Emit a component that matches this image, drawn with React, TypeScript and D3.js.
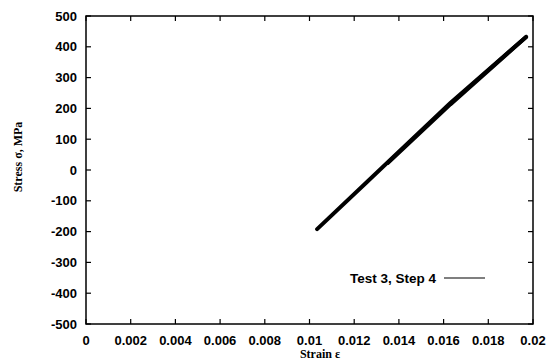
import React from "react";
import * as d3 from "d3";

const xTicks = [0, 0.002, 0.004, 0.006, 0.008, 0.01, 0.012, 0.014, 0.016, 0.018, 0.02];
const xTickLabels = ["0", "0.002", "0.004", "0.006", "0.008", "0.01", "0.012", "0.014", "0.016", "0.018", "0.02"];
const yTicks = [-500, -400, -300, -200, -100, 0, 100, 200, 300, 400, 500];
const loadingStrain = [0.01034, 0.01257, 0.01629, 0.01969];
const loadingStress = [-192, -39, 217, 432];
const unloadingStrain = [0.01969, 0.0163, 0.0135];
const unloadingStress = [432, 213, 23];
const seriesName = "Test 3, Step 4";

const W = 549, H = 364;
const L = 86, R = 533, T = 16, B = 324;

export default function App() {
  const x = d3.scaleLinear().domain([0, 0.02]).range([L, R]);
  const y = d3.scaleLinear().domain([-500, 500]).range([B, T]);
  const line = d3.line<[number, number]>().x(d => x(d[0])).y(d => y(d[1]));
  const load: [number, number][] = loadingStrain.map((s, i) => [s, loadingStress[i]]);
  const unload: [number, number][] = unloadingStrain.map((s, i) => [s, unloadingStress[i]]);
  const tickFont = "'Liberation Sans', Arial, sans-serif";
  const serif = "'Liberation Serif', 'Times New Roman', serif";
  const tl = 5;
  return (
    <svg width={W} height={H} style={{ position: "absolute", left: 0, top: 0, background: "#fff" }}>
      <rect x={0} y={0} width={W} height={H} fill="#fff" />
      {xTicks.map((t, i) => (
        <g key={"x" + i}>
          <line x1={x(t)} x2={x(t)} y1={B} y2={B - tl} stroke="#000" strokeWidth={1.2} />
          <line x1={x(t)} x2={x(t)} y1={T} y2={T + tl} stroke="#000" strokeWidth={1.2} />
          <text x={x(t)} y={345} textAnchor="middle" fontFamily={tickFont} fontWeight="bold" fontSize={13} fill="#000">
            {xTickLabels[i]}
          </text>
        </g>
      ))}
      {yTicks.map((t, i) => (
        <g key={"y" + i}>
          <line x1={L} x2={L + tl} y1={y(t)} y2={y(t)} stroke="#000" strokeWidth={1.2} />
          <line x1={R} x2={R - tl} y1={y(t)} y2={y(t)} stroke="#000" strokeWidth={1.2} />
          <text x={77} y={y(t)} dy="0.36em" textAnchor="end" fontFamily={tickFont} fontWeight="bold" fontSize={13} fill="#000">
            {t}
          </text>
        </g>
      ))}
      <rect x={L} y={T} width={R - L} height={B - T} fill="none" stroke="#000" strokeWidth={1.5} />
      <path d={line(load) || ""} fill="none" stroke="#000" strokeWidth={4} strokeLinecap="round" />
      <path d={line(unload) || ""} fill="none" stroke="#000" strokeWidth={4} strokeLinecap="round" />
      <text x={436} y={283} textAnchor="end" fontFamily={tickFont} fontWeight="bold" fontSize={13.5} fill="#000">{seriesName}</text>
      <line x1={444} x2={485} y1={278} y2={278} stroke="#000" strokeWidth={1.2} />
      <text x={320} y={358} textAnchor="middle" fontFamily={serif} fontWeight="bold" fontSize={12} fill="#000">Strain ε</text>
      <text transform={`translate(22,157) rotate(-90)`} textAnchor="middle" fontFamily={serif} fontWeight="bold" fontSize={12} fill="#000">Stress σ, MPa</text>
    </svg>
  );
}
